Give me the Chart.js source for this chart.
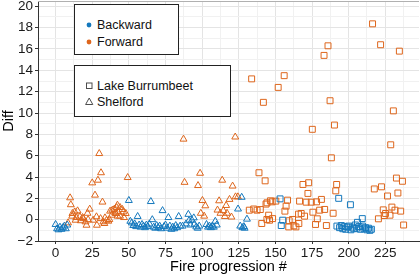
<!DOCTYPE html>
<html>
<head>
<meta charset="utf-8">
<script src="https://cdn.jsdelivr.net/npm/chart.js@4"></script>
<style>
  body { margin: 0; background: #fff; }
  #wrap { position: relative; width: 420px; height: 276px; font-family: "Liberation Sans", Arial, sans-serif; }
  .box { position: absolute; border: 1px solid #222; background: #fff; box-sizing: border-box; }
  .item { position: absolute; left: 0; font-size: 12.5px; color: #111; line-height: 14px; white-space: nowrap; }
  .item svg { position: absolute; left: 10px; top: 2px; }
  .item span { position: absolute; left: 22px; top: 0; }
</style>
</head>
<body>
<div id="wrap">
  <canvas id="chart" width="420" height="276"></canvas>
  <div class="box" style="left:74px; top:4px; width:105px; height:51px;">
    <div class="item" style="top:13px;"><svg width="10" height="10"><circle cx="4" cy="5" r="2.4" fill="#1478bd"/></svg><span>Backward</span></div>
    <div class="item" style="top:30px;"><svg width="10" height="10"><circle cx="4" cy="5" r="2.4" fill="#de661c"/></svg><span>Forward</span></div>
  </div>
  <div class="box" style="left:74px; top:65px; width:157px; height:52px;">
    <div class="item" style="top:13px;"><svg width="10" height="10"><rect x="1.5" y="2" width="5.5" height="5.5" fill="none" stroke="#4d4d4d" stroke-width="1"/></svg><span>Lake Burrumbeet</span></div>
    <div class="item" style="top:29px;"><svg width="10" height="10"><polygon points="4.2,1 7.8,7.5 0.6,7.5" fill="none" stroke="#4d4d4d" stroke-width="1"/></svg><span>Shelford</span></div>
  </div>
</div>
<script>
// fire progression index vs Diff
const shelfordBackward = [
  [0,-0.45],[1,-0.85],[2,-0.95],[3,-0.7],[4,-0.9],[5,-0.75],[6,-0.6],[7,-0.85],[8,-0.5],
  [50,1.8],[51,-0.15],[52,-0.3],[53,-0.55],[54,-0.4],[55,-0.65],[56,0.3],[57,-0.5],[58,-0.7],[59,-0.45],
  [60,-0.6],[61,-0.75],[62,-0.5],[63,-0.65],[64,-0.4],[65,1.7],[66,0.0],[67,-0.7],[68,-0.8],[69,-0.55],
  [70,-0.75],[71,-0.6],[72,-0.85],[73,0.85],[74,-0.65],[75,-0.5],[76,-0.8],[77,0.2],[78,-0.6],[79,-0.9],
  [80,-0.7],[81,-0.85],[82,-0.55],[83,-0.75],[84,0.3],[85,-0.6],[86.7,-0.6],[89,-0.4],[90.6,0.5],[91,-0.1],
  [92,-0.5],[93,-0.05],[94.3,0.17],[94.7,-0.43],[96,-0.68],[97,-0.8],[98,-0.6],
  [103,-0.45],[104,-0.7],[105,-0.6],[106,-0.75],[107,-0.6],[108,-0.7],[109,-0.15],[110,-0.5],
  [124.5,1.0],[127,2.1],[126,-0.6],[127.5,-0.75],[128.5,-0.65],[129,-0.8],[130.6,0.05]
];
const shelfordForward = [
  [8.5,-0.3],[9.9,2.05],[10.4,1.4],[11.3,0.33],[11.5,0.58],[13.1,0.73],[13.6,-0.05],[14.1,0.2],[15,0.83],
  [16.6,0.27],[17.2,-0.1],[18.4,0.2],[18.8,0.1],[20.4,-0.2],[21.1,-0.52],[21.8,0.6],[22.2,0.0],[23.3,0.99],
  [25,3.45],[25.6,-0.05],[26.9,2.3],[27.9,0.27],[28.2,-0.52],[28.9,3.7],[29.8,6.2],[30.7,0.1],[31,4.4],
  [32,1.65],[32.6,-0.2],[33.3,-0.36],[33.7,0.17],[34.8,-0.05],[36,-0.14],[36.7,0.02],[37.2,0.8],[38.3,0.42],
  [38.7,0.89],[40.1,0.99],[40.6,0.64],[41,0.58],[41.7,1.14],[42.2,1.36],[42.3,0.33],[42.6,0.73],[44,1.14],
  [44,0.33],[45.6,0.96],[46.3,0.73],[46.7,0.2],[47.9,0.58],[49.2,3.95],
  [87.3,7.55],[88,3.5],[97.2,3.2],[98.6,4.35],[99.1,0.6],[100.2,1.8],[101.4,0.33],[102.2,1.3],
  [110.5,0.9],[111.6,1.77],[112.5,0.6],[113.7,3.7],[114.5,0.85],[115.5,0.3],[116.4,1.33],[117,0.6],
  [118.7,1.9],[120,0.25],[120.8,3.15],[122.6,7.75],[122.8,2.14],[124.4,2.14]
];
const lakeBackward = [
  [153.2,1.95],[154,-0.55],[155,-0.05],[192,-0.6],[193.2,2.0],[193.8,-0.75],[195,-0.55],[196,-0.85],
  [197,-0.65],[198,-0.9],[199,-0.7],[200,-0.6],[201.2,1.4],[201.5,-0.95],[202.5,-0.7],[203.5,-0.85],
  [204.5,-0.5],[205.5,-0.8],[206,-0.25],[207,-0.65],[208,-0.9],[209.3,0.1],[209.5,-0.6],[210.5,-0.85],
  [211.5,-0.75],[212.5,-0.95],[213.5,-0.8],[214.5,-1.0],[215.5,-0.9]
];
const lakeForward = [
  [132.2,0.89],[133.8,13.2],[135.2,1.0],[137.5,0.89],[138.8,4.4],[139.7,0.95],[140.7,-0.36],[141.8,11.0],
  [143,3.64],[143.6,1.46],[144.2,0.02],[144.3,1.58],[145.4,0.42],[146,-0.05],[146.6,1.77],[147.8,1.67],
  [148.1,0.1],[150.3,1.74],[151.9,12.4],[156,13.5],[156.5,0.8],[157.3,1.27],[158.3,1.83],[159.1,-0.68],
  [159.4,-0.1],[161.7,0.02],[162.6,-0.58],[164,-0.68],[166,-0.36],[165.8,0.52],[166.5,1.74],[167.6,0.58],
  [168.8,3.3],[169.9,0.33],[171,1.64],[172.2,2.46],[172.7,3.46],[174.5,1.64],[175.2,8.47],[175.6,0.7],
  [177.4,-0.45],[178.1,1.67],[178.6,0.08],[180.2,0.89],[181.4,1.9],[183.2,15.4],[183.6,0.96],[184.8,-0.55],
  [185.9,16.3],[187.3,11.15],[188.2,5.8],[189.4,0.6],[190.3,8.87],[191.2,2.7],[191.8,3.3],
  [216.3,18.36],[217.5,2.88],[220.3,0.08],[221.8,16.4],[222.4,3.08],[223.6,0.92],[224.3,0.39],[225.2,0.58],
  [226.5,2.22],[228.2,0.42],[228.7,7.02],[229.5,1.18],[230.5,10.2],[231.6,0.89],[232.6,3.9],[233.6,2.5],
  [234.6,15.8],[235.5,0.8],[236.7,3.6],[237.5,-0.5]
];

const BLUE = '#1478bd';
const ORANGE = '#de661c';
const toPts = arr => arr.map(p => ({ x: p[0], y: p[1] }));

function series(arr, color, shape) {
  return {
    data: toPts(arr),
    pointStyle: shape,
    pointRadius: shape === 'rect' ? 4.2 : 4,
    borderColor: color,
    backgroundColor: 'rgba(0,0,0,0)',
    pointBorderWidth: 1,
    showLine: false
  };
}

// thin grey line along the top of the panel
const topBorder = {
  id: 'topBorder',
  afterDraw(chart) {
    const { ctx, chartArea } = chart;
    ctx.save();
    ctx.strokeStyle = '#b0b0b0';
    ctx.lineWidth = 1;
    ctx.beginPath();
    ctx.moveTo(chartArea.left, chartArea.top + 0.5);
    ctx.lineTo(chartArea.right, chartArea.top + 0.5);
    ctx.stroke();
    ctx.restore();
  }
};

const tickFont = { family: '"Liberation Sans", Arial, sans-serif', size: 13.5 };
const minus = v => (v < 0 ? '\u2212' + Math.abs(v) : String(v));

new Chart(document.getElementById('chart').getContext('2d'), {
  type: 'scatter',
  data: {
    datasets: [
      series(shelfordBackward, BLUE, 'triangle'),
      series(shelfordForward, ORANGE, 'triangle'),
      series(lakeBackward, BLUE, 'rect'),
      series(lakeForward, ORANGE, 'rect')
    ]
  },
  options: {
    responsive: false,
    animation: false,
    layout: { autoPadding: false, padding: { top: 1, right: 1, left: 0, bottom: 0 } },
    plugins: { legend: { display: false }, tooltip: { enabled: false } },
    scales: {
      x: {
        type: 'linear',
        min: -12,
        max: 248,
        afterFit: s => { s.height = 35; s.paddingLeft = 0; s.paddingRight = 0; },
        ticks: {
          stepSize: 12.5,
          includeBounds: false,
          autoSkip: false,
          maxRotation: 0,
          padding: 1,
          color: '#1a1a1a',
          font: tickFont,
          callback: v => (v % 25 === 0 ? minus(v) : '')
        },
        grid: {
          color: c => (c.tick && c.tick.value % 25 === 0 ? '#e4e4e4' : '#f1f1f1'),
          tickColor: c => (c.tick && c.tick.value % 25 === 0 ? '#333' : 'rgba(0,0,0,0)'),
          tickLength: 3
        },
        border: { color: '#333', width: 1 },
        title: {
          display: true,
          text: 'Fire progression #',
          color: '#000',
          font: { family: '"Liberation Sans", Arial, sans-serif', size: 14.5 },
          padding: { top: 0, bottom: 0 }
        }
      },
      y: {
        min: -2,
        max: 20.5,
        afterFit: s => { s.width = 38; s.paddingTop = 0; s.paddingBottom = 0; },
        ticks: {
          stepSize: 1,
          includeBounds: false,
          autoSkip: false,
          padding: 2,
          color: '#1a1a1a',
          font: tickFont,
          callback: v => (v % 2 === 0 ? minus(v) : '')
        },
        grid: {
          color: c => (c.tick && c.tick.value % 2 === 0 ? '#e4e4e4' : '#f1f1f1'),
          tickColor: c => (c.tick && c.tick.value % 2 === 0 ? '#333' : 'rgba(0,0,0,0)'),
          tickLength: 3
        },
        border: { color: '#333', width: 1 },
        title: {
          display: true,
          text: 'Diff',
          color: '#000',
          font: { family: '"Liberation Sans", Arial, sans-serif', size: 14.5 },
          padding: { top: 0, bottom: 0 }
        }
      }
    }
  },
  plugins: [topBorder]
});
</script>
</body>
</html>
